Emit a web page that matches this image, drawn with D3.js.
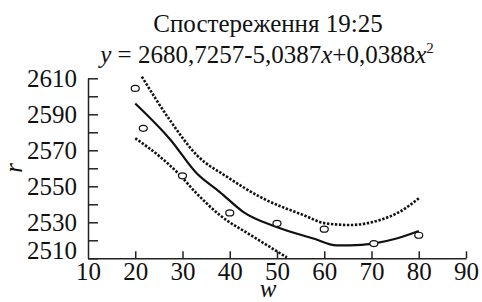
<!DOCTYPE html>
<html><head><meta charset="utf-8">
<script src="https://cdn.jsdelivr.net/npm/d3@7"></script>
<style>body{margin:0;background:#fff;} svg{display:block;} svg text{font-family:'Liberation Serif','Times New Roman',serif !important;}</style>
</head><body><svg id="c" width="482" height="302"></svg>
<script>
const title = "Спостереження 19:25";
const xTicks = [10,20,30,40,50,60,70,80,90];
const yTicks = [2510,2520,2530,2540,2550,2560,2570,2580,2590,2600,2610];
const yLabels = [2510,2530,2550,2570,2590,2610];
const obsX = [20, 21.7, 30, 40, 50, 60, 70.5, 80];
const obsY = [2604.4, 2582.2, 2555.8, 2535.2, 2529.4, 2526.2, 2518.2, 2522.8];
const fitX = [20, 27.4, 33, 37.9, 42.9, 49.9, 57.7, 62.6, 65.4, 70.4, 75.3, 80];
const fitY = [2596, 2576, 2557.2, 2546.8, 2535.7, 2527.4, 2521, 2517.2, 2517.2, 2518.2, 2521, 2525.2];
const upX = [21.4, 27.4, 33, 39.4, 47.1, 55.6, 60.3, 65.4, 71.8, 76, 80];
const upY = [2610.9, 2586.5, 2567.4, 2555.3, 2543.2, 2534, 2529.4, 2528.5, 2531.3, 2535.9, 2543.3];
const loX = [20, 25.2, 29.1, 33, 37.9, 45, 52.1];
const loY = [2576.7, 2566.5, 2557.2, 2546, 2534, 2522, 2510.5];

const FONT = "'Liberation Serif', 'Times New Roman', serif";
const FS = 25;
const svg = d3.select("#c");
const x = d3.scaleLinear().domain([10,90]).range([88,466]);
const y = d3.scaleLinear().domain([2510,2610]).range([258.3,78.3]);

const gx = svg.append("g").attr("transform","translate(0,258.3)")
  .call(d3.axisBottom(x).tickValues(xTicks).tickSizeInner(-7).tickSizeOuter(0).tickPadding(4));
const gy = svg.append("g").attr("transform","translate(88,0)")
  .call(d3.axisLeft(y).tickValues(yTicks).tickSizeInner(-10).tickSizeOuter(0).tickPadding(11)
    .tickFormat(d => yLabels.includes(d) ? d : ""));
[gx,gy].forEach(g=>{
  g.attr("font-family",null).style("font-family",FONT).attr("font-size",FS);
  g.select(".domain").attr("stroke","#222").attr("stroke-width",1.5);
  g.selectAll(".tick line").attr("stroke","#222").attr("stroke-width",1.5);
  g.selectAll(".tick text").style("font-family",FONT).attr("font-size",FS).attr("fill","#111");
});
gy.selectAll(".tick text").filter(d=>d===2510).attr("dy","0.0em");
gx.selectAll(".tick line").filter(d=>d===10).remove();

const line = d3.line().x(d=>x(d[0])).y(d=>y(d[1])).curve(d3.curveMonotoneX);
svg.append("path").attr("d", line(d3.zip(upX,upY))).attr("fill","none").attr("stroke","#111")
  .attr("stroke-width",2.6).attr("stroke-dasharray","2.4,1.6");
svg.append("path").attr("d", line(d3.zip(loX,loY))).attr("fill","none").attr("stroke","#111")
  .attr("stroke-width",2.6).attr("stroke-dasharray","2.4,1.6");
svg.append("path").attr("d", line(d3.zip(fitX,fitY))).attr("fill","none").attr("stroke","#111")
  .attr("stroke-width",2.2);

svg.selectAll("ellipse.o").data(d3.zip(obsX,obsY)).join("ellipse").attr("class","o")
  .attr("cx",d=>x(d[0])).attr("cy",d=>y(d[1])).attr("rx",4).attr("ry",3)
  .attr("fill","#fff").attr("stroke","#111").attr("stroke-width",1.2);

svg.append("text").attr("x",268).attr("y",32).attr("text-anchor","middle").style("font-family",FONT)
  .attr("font-size",FS).attr("fill","#111").text(title);
const eq = svg.append("text").attr("x",267).attr("y",63).attr("text-anchor","middle")
  .style("font-family",FONT).attr("font-size",FS).attr("fill","#111");
eq.append("tspan").attr("font-style","italic").text("y");
eq.append("tspan").text(" = 2680,7257-5,0387");
eq.append("tspan").attr("font-style","italic").text("x");
eq.append("tspan").text("+0,0388");
eq.append("tspan").attr("font-style","italic").text("x");
eq.append("tspan").attr("font-size",15).attr("dy",-10).text("2");

svg.append("text").attr("transform","translate(22,168) rotate(-90)").attr("text-anchor","middle")
  .style("font-family",FONT).attr("font-size",FS).attr("font-style","italic").attr("fill","#111").text("r");
svg.append("text").attr("x",268).attr("y",297).attr("text-anchor","middle").style("font-family",FONT)
  .attr("font-size",FS).attr("font-style","italic").attr("fill","#111").text("w");
</script></body></html>
